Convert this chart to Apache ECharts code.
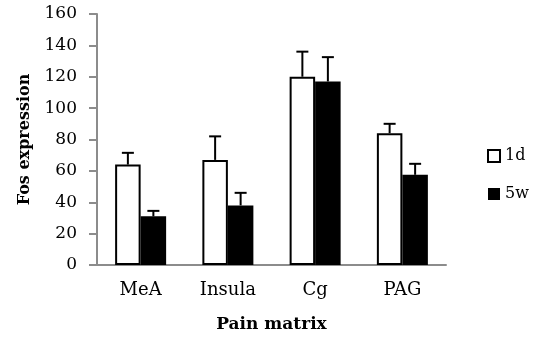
<!DOCTYPE html>
<html>
<head>
<meta charset="utf-8">
<script src="https://cdn.jsdelivr.net/npm/echarts@6/dist/echarts.min.js"></script>
<style>html,body{margin:0;padding:0;background:#fff}#c{width:553px;height:358px}</style>
</head>
<body>
<div id="c"></div>
<script>
const categories = ['MeA', 'Insula', 'Cg', 'PAG'];
const fos1d = [64, 67, 120, 84];
const fos5w = [31, 38, 117, 57.5];
const errTop1d = [71.5, 82, 136, 90];
const errTop5w = [34.5, 46, 132.5, 64.5];
const yTicks = [0, 20, 40, 60, 80, 100, 120, 140, 160];

const FONT = 'DejaVu Serif';
const BAR_W = 25.5;

function errSeries(name, tops, vals, side) {
  return {
    type: 'custom',
    name: name + ' err',
    z: 1,
    silent: true,
    renderItem: function (params, api) {
      const i = api.value(0);
      const base = api.coord([i, api.value(1)]);
      const top = api.coord([i, api.value(2)]);
      const x = base[0] + side * BAR_W / 2;
      const capW = 12;
      return {
        type: 'group',
        children: [
          { type: 'line', shape: { x1: x, y1: base[1], x2: x, y2: top[1] }, style: { stroke: '#000', lineWidth: 2 } },
          { type: 'line', shape: { x1: x - capW / 2, y1: top[1], x2: x + capW / 2, y2: top[1] }, style: { stroke: '#000', lineWidth: 2 } }
        ]
      };
    },
    encode: { x: 0, y: [1, 2] },
    data: categories.map((c, i) => [i, vals[i], tops[i]])
  };
}

const chart = echarts.init(document.getElementById('c'), null, { renderer: 'canvas' });
chart.setOption({
  animation: false,
  backgroundColor: '#fff',
  grid: { left: 97, right: 107, top: 14, bottom: 93, containLabel: false },
  legend: {
    orient: 'vertical',
    left: 482,
    top: 143,
    itemWidth: 12,
    itemHeight: 12,
    itemGap: 22,
    itemTextGap: 6,
    textStyle: { fontFamily: FONT, fontSize: 16, color: '#000' },
    data: [
      { name: '1d', icon: 'rect', itemStyle: { color: '#fff', borderColor: '#000', borderWidth: 2 } },
      { name: '5w', icon: 'rect', itemStyle: { color: '#000', borderWidth: 0 } }
    ]
  },
  xAxis: {
    type: 'category',
    data: categories,
    name: 'Pain matrix',
    nameLocation: 'middle',
    nameGap: 51,
    nameTextStyle: { fontFamily: FONT, fontSize: 17, fontWeight: 'bold', color: '#000' },
    axisLine: { lineStyle: { color: '#8c8c8c', width: 2 } },
    axisTick: { show: false },
    axisLabel: { fontFamily: FONT, fontSize: 18, color: '#000', margin: 16 }
  },
  yAxis: {
    type: 'value',
    min: 0,
    max: 160,
    interval: 20,
    name: 'Fos expression',
    nameLocation: 'middle',
    nameGap: 64,
    nameTextStyle: { fontFamily: FONT, fontSize: 16, fontWeight: 'bold', color: '#000' },
    axisLine: { show: true, lineStyle: { color: '#8c8c8c', width: 2 } },
    axisTick: { show: true, length: 8, lineStyle: { color: '#8c8c8c', width: 2 } },
    splitLine: { show: false },
    axisLabel: {
      fontFamily: FONT, fontSize: 17, color: '#000', margin: 20,
      formatter: function (v) { return yTicks.indexOf(v) >= 0 ? String(v) : ''; }
    }
  },
  series: [
    {
      name: '1d', type: 'bar', data: fos1d, barWidth: BAR_W, barGap: '0%', z: 2,
      itemStyle: { color: '#fff', borderColor: '#000', borderWidth: 2 }
    },
    {
      name: '5w', type: 'bar', data: fos5w, barWidth: BAR_W, barGap: '0%', z: 2,
      itemStyle: { color: '#000', borderColor: '#000', borderWidth: 0 }
    },
    errSeries('1d', errTop1d, fos1d, -1),
    errSeries('5w', errTop5w, fos5w, 1)
  ]
});
</script>
</body>
</html>
